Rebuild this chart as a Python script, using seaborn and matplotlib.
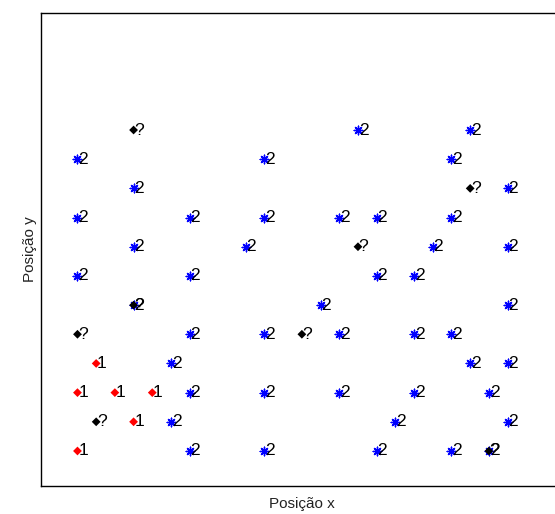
import pandas as pd
import numpy as np
import matplotlib
matplotlib.use("Agg")
import matplotlib.pyplot as plt
import seaborn as sns

# grid positions of each sample (column, row) and its class label
pos_x = [15, 21, 0, 10, 20, 3, 23, 0, 6, 10, 14, 16, 20, 3, 9, 19, 23,
         0, 6, 16, 18, 3, 13, 23, 6, 10, 14, 18, 20, 5, 21, 23,
         6, 10, 14, 18, 22, 5, 17, 23, 6, 10, 16, 20, 22,
         1, 0, 2, 4, 3, 0,
         3, 21, 15, 3, 0, 12, 1, 22]
pos_y = [11, 11, 10, 10, 10, 9, 9, 8, 8, 8, 8, 8, 8, 7, 7, 7, 7,
         6, 6, 6, 6, 5, 5, 5, 4, 4, 4, 4, 4, 3, 3, 3,
         2, 2, 2, 2, 2, 1, 1, 1, 0, 0, 0, 0, 0,
         3, 2, 2, 2, 1, 0,
         11, 9, 7, 5, 4, 4, 1, 0]
classe = ["2"] * 45 + ["1"] * 6 + ["?"] * 8

df = pd.DataFrame({"x": pos_x, "y": pos_y, "classe": classe})

sns.set_style("white")
plt.rcParams["font.family"] = ["Liberation Sans", "DejaVu Sans"]

fig = plt.figure(figsize=(5.55, 5.14), dpi=100)
ax = fig.add_axes([41 / 555, 1 - 486 / 514, (562 - 41) / 555, (486 - 13) / 514])

# class 2: blue asterisk
sns.scatterplot(data=df[df["classe"] == "2"], x="x", y="y", color="blue",
                marker=(8, 2, 0), s=38, linewidth=1.0, legend=False, ax=ax)
# class 1 and unknown: small filled diamonds
sns.scatterplot(data=df[df["classe"] != "2"], x="x", y="y", hue="classe",
                palette={"1": "red", "?": "black"}, marker="D", s=20,
                linewidth=0, legend=False, ax=ax)

for xi, yi, lab in zip(df["x"], df["y"], df["classe"]):
    ax.text(xi + 0.04, yi, lab, ha="left", va="center", fontsize=12.5,
            color="black")

ax.set_xlim(-1.95, 25.91)
ax.set_ylim(-1.2, 15.01)
ax.set_xticks([])
ax.set_yticks([])
ax.set_xlabel("Posição x", fontsize=11, labelpad=8, color="#222222")
ax.set_ylabel("Posição y", fontsize=11, labelpad=3, color="#222222")
for sp in ax.spines.values():
    sp.set_color("black")
    sp.set_linewidth(1.0)

fig.savefig("out.png", dpi=100)
